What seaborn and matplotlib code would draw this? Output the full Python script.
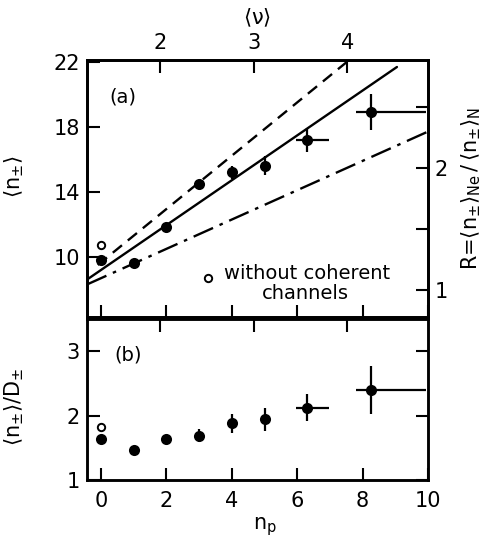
import numpy as np
import pandas as pd
import matplotlib
matplotlib.use("Agg")
import matplotlib.pyplot as plt
import seaborn as sns

# ---------------- data ----------------
n_p = [0, 1, 2, 3, 4, 5, 6.3, 8.25]
n_mean = [9.8, 9.6, 11.85, 14.5, 15.2, 15.6, 17.2, 18.9]
n_mean_err = [0, 0, 0, 0.1, 0.4, 0.6, 0.75, 1.1]
np_err_lo = [0, 0, 0, 0, 0, 0, 0.33, 0.45]
np_err_hi = [0, 0, 0, 0, 0, 0, 0.68, 1.7]
ratio = [1.64, 1.47, 1.63, 1.69, 1.88, 1.94, 2.12, 2.40]
ratio_err = [0, 0, 0, 0.1, 0.15, 0.18, 0.21, 0.37]

open_np = [0]
open_n = [10.7]
open_ratio = [1.82]

# model lines (end points)
dash_np = [-0.1, 7.53]
dash_n = [9.5, 22.0]
solid_np = [-0.43, 9.05]
solid_n = [8.6, 21.67]
dashdot_np = [-0.43, 10.0]
dashdot_n = [8.3, 17.7]

left_ticks_a = [10, 14, 18, 22]
left_ticks_b = [1, 2, 3]
bottom_ticks = [0, 2, 4, 6, 8, 10]
nu_ticks = [2, 3, 4]
R_ticks = [1, 1.5, 2, 2.5]
R_labels = ["1", "", "2", ""]

# ---------------- style ----------------
sns.set_style("ticks")
plt.rcParams["font.family"] = ["DejaVu Sans"]
plt.rcParams["mathtext.fontset"] = "dejavusans"
plt.rcParams["mathtext.default"] = "regular"
for k in ("text.color", "axes.labelcolor", "xtick.color", "ytick.color",
          "axes.edgecolor"):
    plt.rcParams[k] = "black"
plt.rcParams["xtick.direction"] = "in"
plt.rcParams["ytick.direction"] = "in"
FS = 15
LW = 1.8

W, H = 497, 546
fig = plt.figure(figsize=(W / 100, H / 100), dpi=100)

def box(x0, x1, ytop, ybot):
    return [x0 / W, 1 - ybot / H, (x1 - x0) / W, (ybot - ytop) / H]

axA = fig.add_axes(box(87, 428, 60, 317))
axB = fig.add_axes(box(87, 428, 319, 480))

# <nu> as a linear function of n_p (top scale)
def np2nu(x):
    return 2 + (np.asarray(x) - 1.80) / 2.865

# R as a linear function of <n> (right scale)
def n2R(y):
    return 1 + (np.asarray(y) - 7.98) / 7.48

dfA = pd.DataFrame({"n_p": n_p, "n": n_mean})
dfB = pd.DataFrame({"n_p": n_p, "r": ratio})

XL = (-0.43, 10)
YLA = (6.3, 22.1)
YLB = (1, 3.5)
TK = dict(direction="in", length=9, width=1.5, labelsize=FS)

# ---------------- panel (a) ----------------
sns.lineplot(x=dash_np, y=dash_n, ax=axA, color="black", lw=1.7,
             linestyle=(0, (5, 3.2)))
sns.lineplot(x=solid_np, y=solid_n, ax=axA, color="black", lw=1.7)
sns.lineplot(x=dashdot_np, y=dashdot_n, ax=axA, color="black", lw=1.7,
             linestyle=(0, (9, 3, 1.5, 3)))
axA.errorbar(n_p, n_mean, yerr=n_mean_err, xerr=[np_err_lo, np_err_hi],
             fmt="none", ecolor="black", elinewidth=1.6, capsize=0)
sns.scatterplot(data=dfA, x="n_p", y="n", ax=axA, color="black", s=64,
                edgecolor="black", linewidth=0, zorder=5)
axA.scatter(open_np, open_n, s=28, facecolor="white", edgecolor="black",
            linewidth=1.4, zorder=6)
# note with open-circle symbol
axA.scatter([3.26], [8.7], s=28, facecolor="white", edgecolor="black",
            linewidth=1.4, zorder=6)
axA.text(3.75, 8.95, "without coherent", fontsize=14, ha="left", va="center")
axA.text(6.25, 7.75, "channels", fontsize=14, ha="center", va="center")
axA.text(0.67, 19.8, "(a)", fontsize=14, ha="center", va="center")

axA.set_xlim(*XL)
axA.set_ylim(*YLA)
axA.set_yticks(left_ticks_a)
axA.set_xticks(bottom_ticks)
axA.tick_params(axis="x", labelbottom=False, bottom=True, top=False, **TK)
axA.tick_params(axis="y", pad=5, left=True, right=False, **TK)
axA.set_xlabel("")
axA.set_ylabel(r"$\langle n_{\pm}\rangle$", fontsize=FS)
axA.yaxis.set_label_coords(-0.179, 0.545)

topA = axA.twiny()
topA.set_xlim(np2nu(XL[0]), np2nu(XL[1]))
topA.set_xticks(nu_ticks)
topA.tick_params(axis="x", pad=5, top=True, bottom=False, labeltop=True,
                 labelbottom=False, **TK)
topA.set_xlabel(r"$\langle \nu \rangle$", fontsize=FS, labelpad=6)

rightA = axA.twinx()
rightA.set_ylim(n2R(YLA[0]), n2R(YLA[1]))
rightA.set_yticks(R_ticks)
rightA.set_yticklabels(R_labels)
rightA.tick_params(axis="y", pad=5, right=True, left=False, labelright=True,
                   labelleft=False, **TK)
rightA.set_ylabel(r"R=$\langle n_{\pm}\rangle_{Ne}\,/\,\langle n_{\pm}\rangle_{N}$",
                  fontsize=FS, labelpad=8)

# ---------------- panel (b) ----------------
axB.errorbar(n_p, ratio, yerr=ratio_err, xerr=[np_err_lo, np_err_hi],
             fmt="none", ecolor="black", elinewidth=1.6, capsize=0)
sns.scatterplot(data=dfB, x="n_p", y="r", ax=axB, color="black", s=64,
                edgecolor="black", linewidth=0, zorder=5)
axB.scatter(open_np, open_ratio, s=28, facecolor="white", edgecolor="black",
            linewidth=1.4, zorder=6)
axB.text(0.82, 2.94, "(b)", fontsize=14, ha="center", va="center")

axB.set_xlim(*XL)
axB.set_ylim(*YLB)
axB.set_yticks(left_ticks_b)
axB.set_xticks(bottom_ticks)
axB.tick_params(axis="x", pad=8, top=False, **TK)
axB.tick_params(axis="y", pad=5, left=True, right=True, **TK)
axB.set_xlabel(r"$n_p$", fontsize=FS)
axB.set_ylabel(r"$\langle n_{\pm}\rangle / D_{\pm}$", fontsize=FS)
axB.yaxis.set_label_coords(-0.179, 0.453)
axB.xaxis.set_label_coords(0.522, -0.22)

topB = axB.twiny()
topB.set_xlim(np2nu(XL[0]), np2nu(XL[1]))
topB.set_xticks(nu_ticks)
topB.tick_params(axis="x", top=True, bottom=False, labeltop=False,
                 labelbottom=False, **TK)

for a in (axA, axB, topA, rightA, topB):
    for s in a.spines.values():
        s.set_linewidth(LW)
        s.set_color("black")
        s.set_visible(True)

fig.savefig("out.png", dpi=100)
